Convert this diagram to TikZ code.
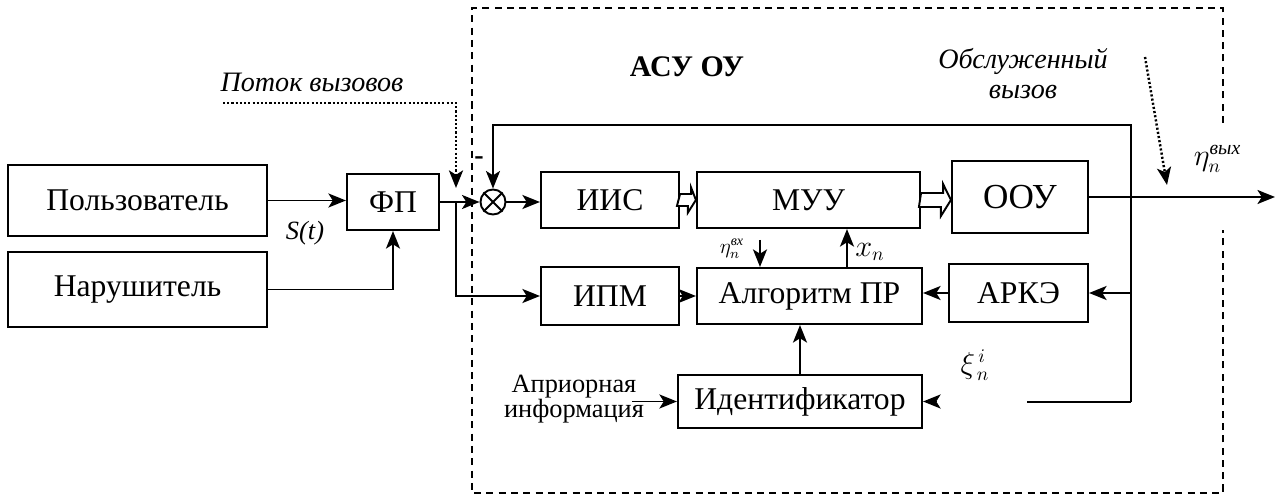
\documentclass[tikz,border=0pt]{standalone}
\usepackage{amsmath}
\usepackage{fontspec}
\setmainfont{LiberationSerif}[Extension=.ttf,UprightFont=*-Regular,BoldFont=*-Bold,ItalicFont=*-Italic,BoldItalicFont=*-BoldItalic]
\usetikzlibrary{arrows.meta}

\begin{document}
\begin{tikzpicture}[>={Stealth[length=10pt,width=8pt,inset=2.5pt]},line width=1.1pt,
  blk/.style={draw,line width=1.2pt,minimum height=1.12cm,inner sep=2pt,font=\fontsize{18}{20}\selectfont},
  lbl/.style={inner sep=1pt,font=\fontsize{16}{18}\selectfont},
  dots/.style={line width=1.4pt,dash pattern=on 1.2pt off 1.2pt}]
\useasboundingbox (0,0) rectangle (25.56,9.96);
% system boundary
\draw[line width=1.1pt,dash pattern=on 4pt off 3pt] (24.46,7.5) -- (24.46,9.8) -- (9.44,9.8) -- (9.44,0.1) -- (24.46,0.1) -- (24.46,5.36);
% blocks
\node[blk,minimum width=5.18cm,minimum height=1.42cm] (user) at (2.75,5.95) {Пользователь};
\node[blk,minimum width=5.18cm,minimum height=1.5cm] (intr) at (2.75,4.17) {Нарушитель};
\node[blk,minimum width=1.84cm] (fp) at (7.86,5.92) {ФП};
\node[draw,circle,line width=1.1pt,minimum size=0.5cm,inner sep=0pt] (sum) at (9.86,5.92) {};
\draw (sum.north west) -- (sum.south east) (sum.north east) -- (sum.south west);
\node[blk,minimum width=2.76cm] (iis) at (12.2,5.96) {ИИС};
\node[blk,minimum width=4.46cm] (muu) at (16.17,5.96) {МУУ};
\node[blk,minimum width=2.72cm,minimum height=1.44cm,font=\fontsize{20}{22}\selectfont] (ooy) at (20.4,6.02) {ООУ};
\node[blk,minimum width=2.76cm,minimum height=1.16cm] (ipm) at (12.2,4.04) {ИПМ};
\node[blk,minimum width=4.5cm] (alg) at (16.19,4.04) {Алгоритм ПР};
\node[blk,minimum width=2.78cm,minimum height=1.16cm] (arkz) at (20.37,4.1) {АРКЭ};
\node[blk,minimum width=4.88cm,minimum height=1.06cm] (ident) at (16.0,1.93) {Идентификатор};
% labels
\node[lbl,font=\fontsize{17}{19}\selectfont\bfseries] (title) at (13.74,8.62) {АСУ ОУ};
\node[lbl,font=\fontsize{16}{18}\selectfont\itshape] (flow) at (6.24,8.32) {Поток вызовов};
\node[lbl,align=center,font=\fontsize{16}{17}\selectfont\itshape] (srv) at (20.46,8.49) {Обслуженный\\вызов};
\node[lbl,font=\fontsize{15}{17}\selectfont\itshape] (st) at (6.1,5.3) {S(t)};
\node[lbl,align=center,font=\fontsize{15}{14}\selectfont] (apr) at (11.48,1.98) {Априорная\\информация};
\node[lbl] (etaout) at (24.35,6.78) {$\eta_n^{\textit{вых}}$};
\node[lbl] (xi) at (19.5,2.66) {$\xi_{\,n}^{\,i}$};
\node[lbl,font=\fontsize{12}{14}\selectfont] (etalab) at (14.64,4.98) {$\eta_n^{\textit{вх}}$};
\node[lbl] (xn) at (17.4,4.92) {$x_n$};
\node[lbl,font=\fontsize{16}{18}\selectfont\bfseries] (minus) at (9.58,6.74) {-};
% helper points
\coordinate (br) at (9.12,5.92);
\coordinate (fbtop) at (22.62,7.46);
\coordinate (fbbot) at (22.62,1.92);
\coordinate (out) at (25.5,6.02);
\coordinate (xa) at ([xshift=0.75cm]alg.north);
\coordinate (etain) at (15.2,5.16);
\coordinate (aprout) at (12.64,1.93);
\coordinate (xiend) at (20.54,1.92);
\coordinate (xitip) at (18.72,1.93);
\coordinate (flowA) at (4.46,7.9);
\coordinate (flowB) at (9.12,6.2);
\coordinate (srvA) at (22.9,8.82);
\coordinate (srvB) at (23.34,6.26);
% connections
\draw[->] (user.east) -- (user.east -| fp.west);
\draw[->] (intr.east) -| (fp.south);
\draw[->] (fp.east) -- (sum.west);
\draw[->] (br) |- (ipm.west);
\draw[->] (sum.east) -- (sum.east -| iis.west);
\draw[fill=white] ([yshift=0.12cm]iis.east) -- ++(0.22,0) -- ++(0,0.13) -- (muu.west) -- ++(-0.16,-0.25) -- ++(0,0.13) -- ++(-0.22,0) -- cycle;
\draw[fill=white] ([yshift=0.14cm]muu.east) -- ++(0.44,0) -- ++(0,0.18) -- (muu.east -| ooy.west) -- ++(-0.2,-0.32) -- ++(0,0.18) -- ++(-0.44,0) -- cycle;
\draw[->] (ooy.east) -- (out);
\draw[->] (fbbot) -- (fbtop) -| (sum.north);
\draw[->] (arkz.east -| fbtop) -- (arkz.east);
\draw[->] (arkz.west) -- (arkz.west -| alg.east);
\draw[->] (ipm.east) -- (ipm.east -| alg.west);
\draw[->] (xa) -- (xa |- muu.south);
\draw[->] (etain) -- (etain |- alg.north);
\draw[->] (ident.north) -- (ident.north |- alg.south);
\draw[->] (aprout) -- (aprout -| ident.west);
\draw (fbbot) -- (xiend);
\draw[->] (xitip) -- (ident.east);
\draw[dots,->] (flowA) -| (flowB);
\draw[dots,->] (srvA) -- (srvB);
\end{tikzpicture}
\end{document}
